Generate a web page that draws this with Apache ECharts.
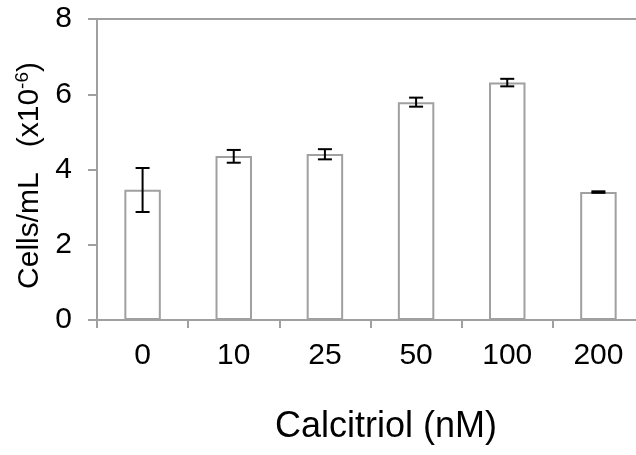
<!DOCTYPE html>
<html>
<head>
<meta charset="utf-8">
<script src="https://cdn.jsdelivr.net/npm/echarts@6/dist/echarts.min.js"></script>
<style>
  html, body { margin: 0; padding: 0; background: #fff; }
  #chart { width: 636px; height: 455px; }
</style>
</head>
<body>
<div id="chart"></div>
<script>
const categories = ["0", "10", "25", "50", "100", "200"];
const cellValues = [3.46, 4.36, 4.41, 5.79, 6.31, 3.40];
const errLow = [2.87, 4.18, 4.27, 5.67, 6.21, 3.38];
const errHigh = [4.04, 4.52, 4.54, 5.91, 6.41, 3.42];
const yTicks = { min: 0, max: 8, interval: 2 };

const font = "'Liberation Sans', Arial, Helvetica, sans-serif";
const axisGray = "#a0a0a0";

const chart = echarts.init(document.getElementById("chart"));

const errData = categories.map((c, i) => [i, errLow[i], errHigh[i]]);

const option = {
  animation: false,
  // plot runs past the right edge of the picture, as in the reference
  grid: { left: 97, width: 547, top: 19, height: 301, outerBoundsMode: "none" },
  xAxis: [
    {
      type: "category",
      data: categories,
      boundaryGap: true,
      axisLine: { lineStyle: { color: axisGray, width: 2 } },
      axisTick: { show: true, length: 8, inside: false, lineStyle: { color: axisGray, width: 2 } },
      axisLabel: { color: "#000", fontSize: 30, fontFamily: font, margin: 21, interval: 0 },
    },
    {
      type: "category",
      position: "top",
      data: categories,
      axisLine: { show: true, lineStyle: { color: axisGray, width: 2 } },
      axisTick: { show: false },
      axisLabel: { show: false },
    },
  ],
  yAxis: {
    type: "value",
    min: yTicks.min,
    max: yTicks.max,
    interval: yTicks.interval,
    splitLine: { show: false },
    axisLine: { show: true, lineStyle: { color: axisGray, width: 2 } },
    axisTick: { show: true, length: 9, lineStyle: { color: axisGray, width: 2 } },
    axisLabel: { color: "#000", fontSize: 30, fontFamily: font, margin: 25 },
    name: "{m|Cells/mL   (x10}{s|-6}{m|)}",
    nameLocation: "middle",
    nameRotate: 90,
    nameGap: 50,
    nameTextStyle: {
      padding: [0, 12, 0, 0],
      rich: {
        m: { fontSize: 30, fontFamily: font, color: "#000", lineHeight: 33 },
        s: { fontSize: 19, fontFamily: font, color: "#000", verticalAlign: "top", lineHeight: 33 },
      },
    },
  },
  graphic: [
    {
      type: "text",
      x: 386,
      y: 427,
      style: {
        text: "Calcitriol (nM)",
        fontSize: 36,
        fontFamily: font,
        fill: "#000",
        align: "center",
        verticalAlign: "middle",
      },
    },
  ],
  series: [
    {
      type: "bar",
      data: cellValues,
      barWidth: "40%",
      itemStyle: { color: "#fff", borderColor: axisGray, borderWidth: 2 },
    },
    {
      type: "custom",
      data: errData,
      z: 10,
      renderItem: function (params, api) {
        const x = api.value(0);
        const lo = api.coord([x, api.value(1)]);
        const hi = api.coord([x, api.value(2)]);
        const half = 7;
        const st = { stroke: "#000", lineWidth: 2 };
        return {
          type: "group",
          children: [
            { type: "line", shape: { x1: lo[0], y1: lo[1], x2: hi[0], y2: hi[1] }, style: st },
            { type: "line", shape: { x1: lo[0] - half, y1: lo[1], x2: lo[0] + half, y2: lo[1] }, style: st },
            { type: "line", shape: { x1: hi[0] - half, y1: hi[1], x2: hi[0] + half, y2: hi[1] }, style: st },
          ],
        };
      },
    },
  ],
};

chart.setOption(option);
</script>
</body>
</html>
